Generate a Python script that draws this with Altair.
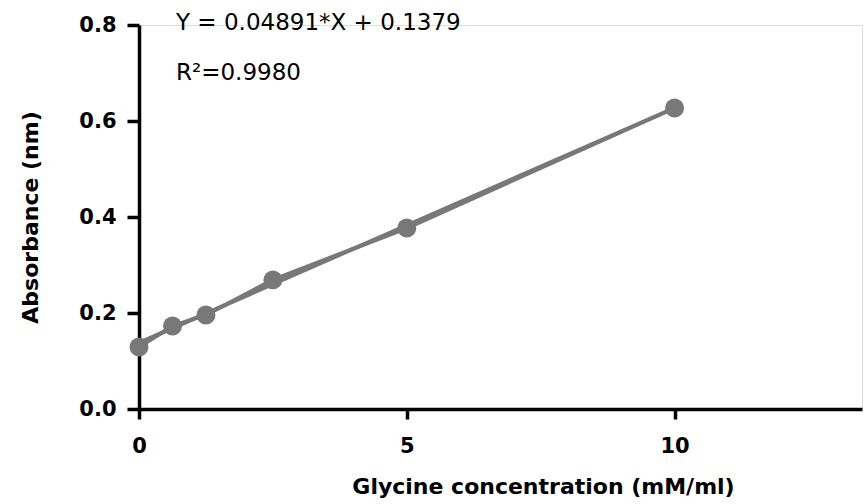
import altair as alt
import pandas as pd

# Data
conc = [0, 0.625, 1.25, 2.5, 5, 10]
absorbance = [0.129, 0.173, 0.196, 0.269, 0.377, 0.627]
slope = 0.04891
intercept = 0.1379
fit_x = [0, 10]
x_ticks = [0, 5, 10]
y_ticks = [0.0, 0.2, 0.4, 0.6, 0.8]
eq_text = ["Y = 0.04891*X + 0.1379", "R\u00b2=0.9980"]

df = pd.DataFrame({"x": conc, "y": absorbance})
fit_df = pd.DataFrame({"x": fit_x, "y": [slope * v + intercept for v in fit_x]})

GRAY = "#787878"
FONT = "DejaVu Sans"

xscale = alt.Scale(domain=[0, 13.5], nice=False, zero=False)
yscale = alt.Scale(domain=[0, 0.8], nice=False)

xaxis = alt.Axis(
    values=x_ticks, title="Glycine concentration (mM/ml)", grid=False,
    domainColor="black", domainWidth=3.5, tickColor="black", tickWidth=3.5, tickSize=10,
    labelFont=FONT, labelFontSize=21, labelFontWeight="bold", labelColor="black",
    labelPadding=16, labelFlush=False,
    titleFont=FONT, titleFontSize=22, titleFontWeight="bold", titleColor="black",
    titleX=404, titleY=77, titleAlign="center", titleBaseline="middle",
)
yaxis = alt.Axis(
    values=y_ticks, format=".1f", title="Absorbance (nm)", grid=False,
    domainColor="black", domainWidth=3.5, tickColor="black", tickWidth=3.5, tickSize=12,
    labelFont=FONT, labelFontSize=21, labelFontWeight="bold", labelColor="black",
    labelPadding=11, labelFlush=False,
    titleFont=FONT, titleFontSize=22, titleFontWeight="bold", titleColor="black",
    titleX=-109, titleY=192, titleAngle=270, titleAlign="center", titleBaseline="middle",
)

base = alt.Chart(df)

data_line = base.mark_line(color=GRAY, strokeWidth=4).encode(
    x=alt.X("x:Q", scale=xscale, axis=xaxis),
    y=alt.Y("y:Q", scale=yscale, axis=yaxis),
)
fit_line = alt.Chart(fit_df).mark_line(color=GRAY, strokeWidth=4).encode(
    x=alt.X("x:Q", scale=xscale),
    y=alt.Y("y:Q", scale=yscale),
)
points = base.mark_circle(color=GRAY, size=360, opacity=1).encode(
    x=alt.X("x:Q", scale=xscale),
    y=alt.Y("y:Q", scale=yscale),
)

eq1 = alt.Chart(pd.DataFrame({"t": [eq_text[0]]})).mark_text(
    font=FONT, fontSize=23, color="black", align="left", baseline="middle"
).encode(x=alt.value(37), y=alt.value(-2), text="t:N")
eq2 = alt.Chart(pd.DataFrame({"t": [eq_text[1]]})).mark_text(
    font=FONT, fontSize=23, color="black", align="left", baseline="middle"
).encode(x=alt.value(37), y=alt.value(48), text="t:N")

chart = alt.layer(fit_line, data_line, points, eq1, eq2).properties(
    width=723, height=384,
    autosize=alt.AutoSizeParams(type="none"),
    padding={"left": 139, "top": 25, "right": 3, "bottom": 95},
).configure_view(stroke=None).configure(background="white")

chart.save("out.html", embed_options={"renderer": "svg", "actions": False})
